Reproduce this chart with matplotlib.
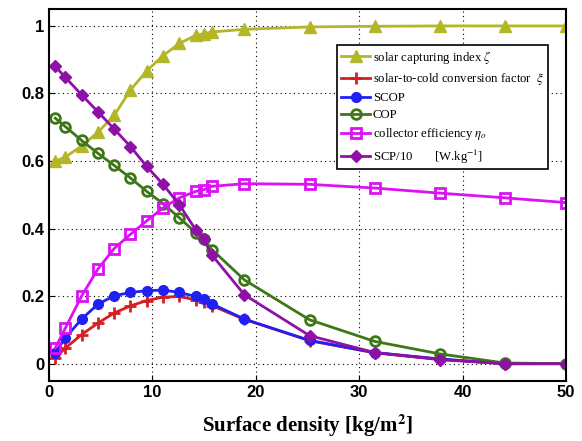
import matplotlib.pyplot as plt
import numpy as np

# surface density [kg/m2]
density = [0.6, 1.575, 3.15, 4.725, 6.3, 7.875, 9.45, 11.025, 12.6, 14.175,
           14.96, 15.75, 18.9, 25.2, 31.5, 37.8, 44.1, 50.0]

capture_idx = [0.599, 0.612, 0.644, 0.685, 0.735, 0.810, 0.867, 0.912, 0.948,
               0.972, 0.977, 0.982, 0.990, 0.997, 0.999, 1.0, 1.0, 1.0]
solar_to_cold = [0.017, 0.046, 0.086, 0.120, 0.150, 0.171, 0.187, 0.197, 0.199,
                 0.189, 0.184, 0.172, 0.131, 0.068, 0.032, 0.013, 0.0, 0.0]
scop = [0.032, 0.076, 0.132, 0.176, 0.201, 0.211, 0.216, 0.218, 0.211,
        0.199, 0.191, 0.177, 0.132, 0.069, 0.033, 0.014, 0.0, 0.0]
cop = [0.727, 0.702, 0.661, 0.623, 0.587, 0.550, 0.510, 0.474, 0.432,
       0.388, 0.368, 0.338, 0.248, 0.130, 0.066, 0.029, 0.002, 0.0]
coll_eff = [0.046, 0.105, 0.200, 0.280, 0.341, 0.383, 0.423, 0.461, 0.491,
            0.510, 0.515, 0.525, 0.533, 0.531, 0.520, 0.505, 0.491, 0.477]
scp10 = [0.880, 0.848, 0.796, 0.746, 0.695, 0.643, 0.584, 0.531, 0.471,
         0.397, 0.368, 0.322, 0.204, 0.083, 0.033, 0.012, 0.0, 0.0]

labels = [r'solar capturing index $\zeta$',
          r'solar-to-cold conversion factor  $\xi$',
          'SCOP',
          'COP',
          r'collector efficiency $\eta_o$',
          r'SCP/10       [W.kg$^{-1}$]']

plt.rcParams['mathtext.fontset'] = 'stix'

fig = plt.figure(figsize=(5.82, 4.41), dpi=100)
ax = fig.add_axes([0.0842, 0.137, 0.8883, 0.8425])

ax.plot(density, capture_idx, color='#b3b626', marker='^', ms=9, lw=2, label=labels[0])
ax.plot(density, solar_to_cold, color='#d42024', marker='+', ms=8, mew=2, lw=2, label=labels[1])
ax.plot(density, scop, color='#2020f5', marker='o', ms=7, lw=2, label=labels[2])
ax.plot(density, cop, color='#3f7618', marker='o', mfc='none', mew=2, ms=7, lw=2, label=labels[3])
ax.plot(density, coll_eff, color='#dd11f5', marker='s', mfc='none', mew=2, ms=7, lw=2, label=labels[4])
ax.plot(density, scp10, color='#8e10a6', marker='D', ms=6, lw=2, label=labels[5])

ax.set_xlim(0, 50)
ax.set_ylim(-0.05, 1.05)
ax.set_xticks([0, 10, 20, 30, 40, 50])
ax.set_yticks([0, 0.2, 0.4, 0.6, 0.8, 1])
ax.set_yticklabels(['0', '0.2', '0.4', '0.6', '0.8', '1'])
ax.tick_params(direction='in', labelsize=12, length=4)
for lab in ax.get_xticklabels() + ax.get_yticklabels():
    lab.set_fontfamily('Liberation Sans')
    lab.set_fontweight('bold')
ax.grid(True, color='black', linestyle=(0, (1, 3)), lw=0.8)
for sp in ax.spines.values():
    sp.set_linewidth(1.5)

ax.set_xlabel(r'Surface density [kg/m$^\mathbf{2}$]', fontsize=15, fontweight='bold',
              family='Liberation Serif', labelpad=9)

leg = ax.legend(loc='upper right', bbox_to_anchor=(0.965, 0.903), borderaxespad=0,
                fancybox=False, edgecolor='black', framealpha=1, handlelength=2.3,
                handletextpad=0.2, borderpad=0.3, labelspacing=0.4,
                prop={'family': 'Liberation Serif', 'size': 9.2})
leg.get_frame().set_linewidth(1.2)

fig.savefig('out.png', dpi=100)
